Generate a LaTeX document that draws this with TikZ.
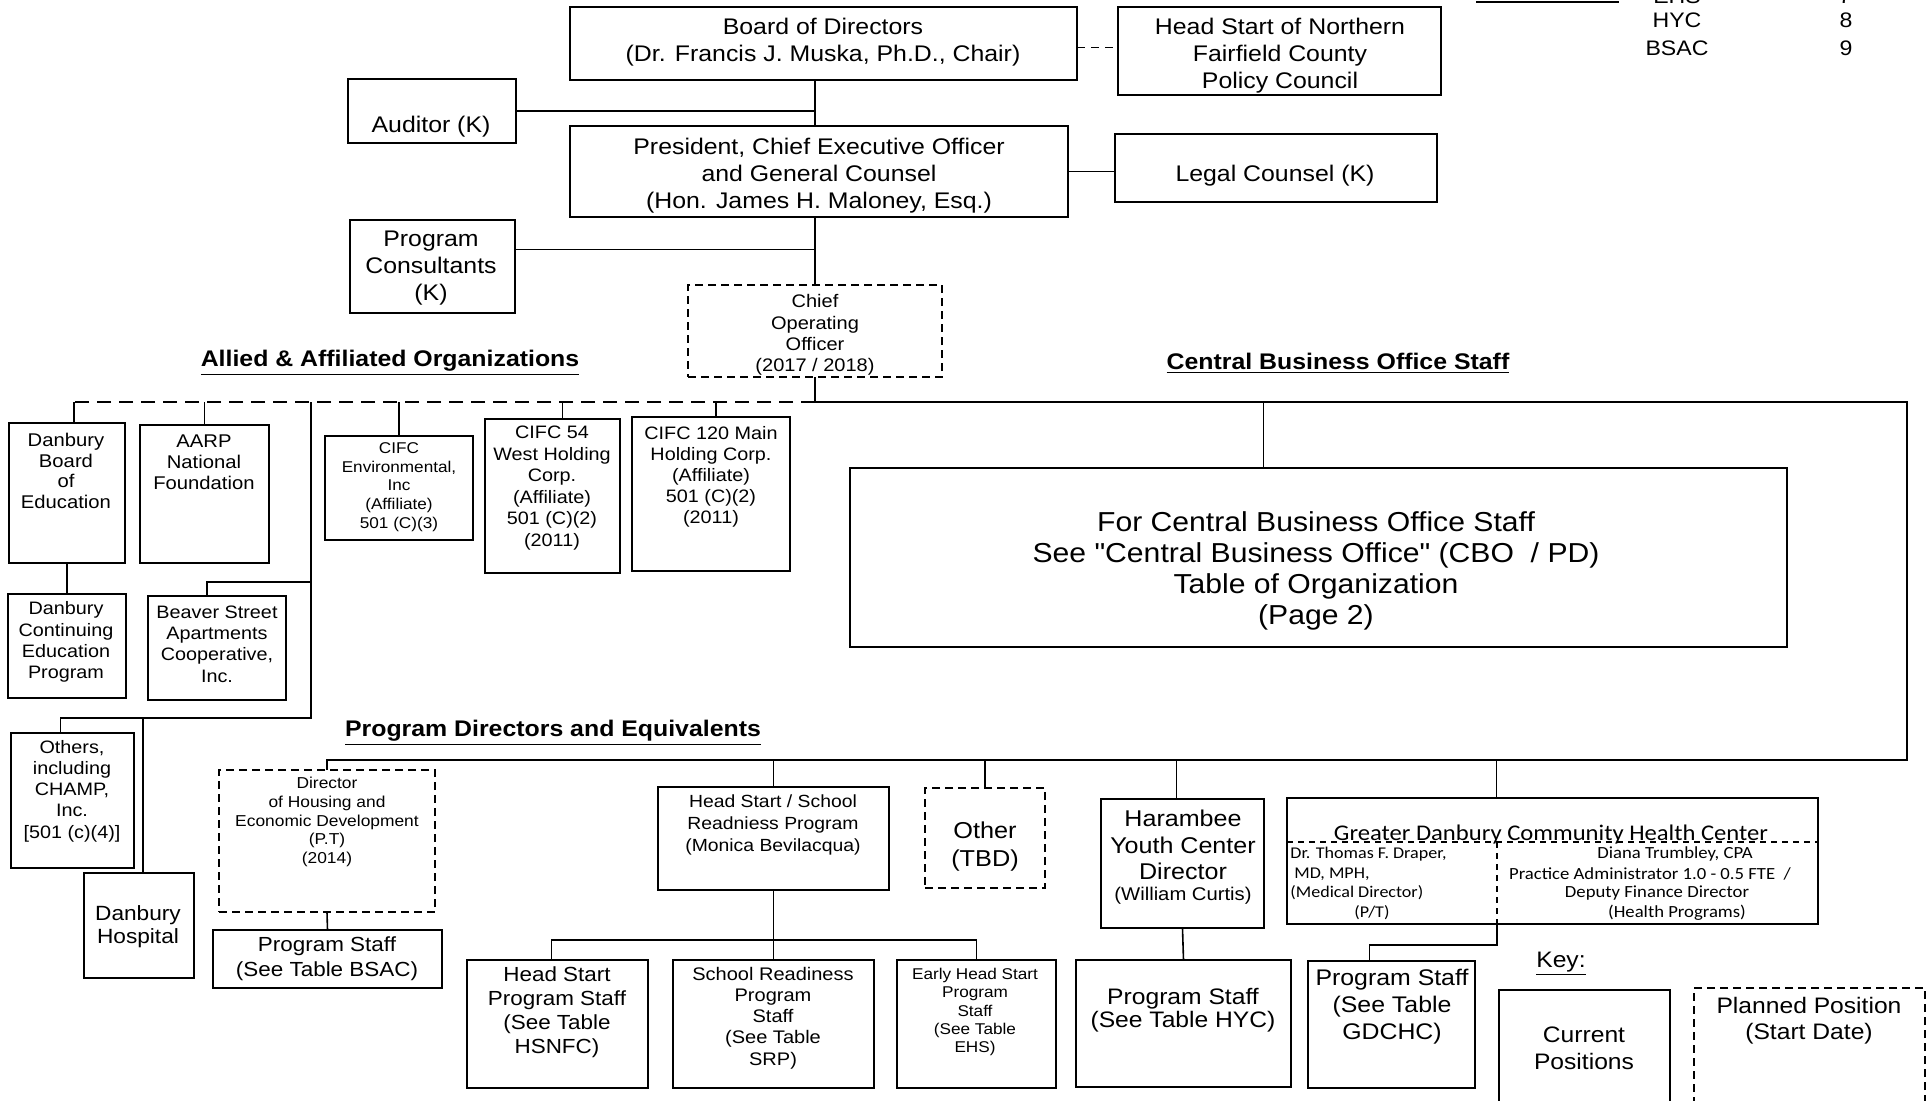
\documentclass[tikz,border=0pt]{standalone}
\usepackage{fontspec}
\newfontfamily\af[FakeStretch=1.1]{Liberation Sans}
\newfontfamily\cf[FakeStretch=1.1]{Carlito}
\usetikzlibrary{calc}
\newcommand\fz[2]{\fontsize{#1pt}{#2pt}\selectfont}
\newcommand\orgbox[6][]{\node[bx,#1,minimum width={(#5-#3)*0.5pt},minimum height={(#6-#4)*0.5pt}] (#2) at ({(#3+#5)/2},{(#4+#6)/2}) {};}
\newcommand\tnode[5]{\node[tx,font=\af\fz{#3}{#4}] (#1) at (#2) {#5};}
\tikzset{
  bx/.style={draw, line width=0.9pt, inner sep=0pt, outer sep=0pt},
  planbx/.style={dash pattern=on 4pt off 2.5pt},
  ln/.style={line width=0.8pt},
  dln/.style={line width=0.8pt, dash pattern=on 7pt off 4pt},
  sdln/.style={line width=0.7pt, dash pattern=on 3pt off 2.5pt},
  tx/.style={inner sep=0pt, align=center},
  tbl/.style={inner sep=0pt, anchor=base, font=\af\fz{10.5}{12}},
}
\begin{document}
\begin{tikzpicture}[x=0.5pt,y=-0.5pt]
\fill[white] (0,0) rectangle (1929,1100);
\useasboundingbox (0,0) rectangle (1929,1100);

% ---- boxes ----
\orgbox{board}{570}{7}{1077}{80}
\orgbox{hsp}{1118}{7}{1441}{95}
\orgbox{aud}{348}{79}{516}{143}
\orgbox{pres}{570}{126}{1068}{217}
\orgbox{legal}{1115}{134}{1437}{202}
\orgbox{pc}{350}{220}{515}{313}
\orgbox[planbx]{coo}{688}{285}{942}{377}
\orgbox{dbe}{9}{423}{125}{563}
\orgbox{aarp}{140}{425}{269}{563}
\orgbox{cenv}{325}{436}{473}{540}
\orgbox{c54}{485}{419}{620}{573}
\orgbox{c120}{632}{417}{790}{571}
\orgbox{dce}{8}{594}{126}{698}
\orgbox{bsa}{148}{596}{286}{700}
\orgbox{oth}{11}{733}{134}{868}
\orgbox{hosp}{84}{873}{194}{978}
\orgbox{cbo}{850}{468}{1787}{647}
\orgbox[planbx]{dir}{219}{770}{435}{912}
\orgbox{bsac}{213}{930}{442}{988}
\orgbox{hssr}{658}{787}{889}{890}
\orgbox[planbx]{other}{925}{788}{1045}{888}
\orgbox{har}{1101}{799}{1264}{928}
\orgbox{gd}{1287}{798}{1818}{924}
\orgbox{hss}{467}{960}{648}{1088}
\orgbox{srs}{673}{960}{874}{1088}
\orgbox{ehs}{897}{960}{1056}{1088}
\orgbox{hyc}{1076}{960}{1291}{1087}
\orgbox{gds}{1308}{961}{1475}{1088}
\orgbox{cur}{1499}{990}{1670}{1106}
\orgbox[planbx]{plan}{1694}{988}{1925}{1106}

% ---- texts ----
\tnode{board-t}{823,42}{11.3}{13.5}{Board of Directors\\(Dr. Francis J. Muska, Ph.D., Chair)}
\tnode{hsp-t}{1280,56}{11.3}{13.5}{Head Start of Northern\\Fairfield County\\Policy Council}
\tnode{aud-t}{431,127}{11.3}{13.5}{Auditor (K)}
\tnode{pres-t}{819,176}{11.3}{13.5}{President, Chief Executive Officer\\and General Counsel\\(Hon. James H. Maloney, Esq.)}
\tnode{legal-t}{1275,176}{11.3}{13.5}{Legal Counsel (K)}
\tnode{pc-t}{431,268}{11.3}{13.5}{Program\\Consultants\\(K)}
\tnode{coo-t}{815,335}{9.1}{10.7}{Chief\\Operating\\Officer\\(2017 / 2018)}

\node[tx,font=\af\bfseries\fz{11.3}{13.5}] (t-allied) at (390,363) {\underline{Allied \& Affiliated Organizations}};
\node[tx,font=\af\bfseries\fz{11.3}{13.5}] (t-cbo) at (1338,363) {\underline{Central Business Office Staff}};
\node[tx,font=\af\bfseries\fz{11.3}{13.5}] (t-pd) at (553,733) {\underline{Program Directors and Equivalents}};

\tnode{dbe-t}{66,471}{9.2}{10.4}{Danbury\\Board\\of\\Education}
\tnode{aarp-t}{204,462}{9.2}{10.6}{AARP\\National\\Foundation}
\tnode{cenv-t}{399,487}{7.8}{9.35}{CIFC\\Environmental,\\Inc\\(Affiliate)\\501 (C)(3)}
\tnode{c54-t}{552,488}{9.0}{10.8}{CIFC 54\\West Holding\\Corp.\\(Affiliate)\\501 (C)(2)\\(2011)}
\tnode{c120-t}{711,477}{9.0}{10.5}{CIFC 120 Main\\Holding Corp.\\(Affiliate)\\501 (C)(2)\\(2011)}
\tnode{dce-t}{66,642}{9.0}{10.6}{Danbury\\Continuing\\Education\\Program}
\tnode{bsa-t}{217,644}{9.0}{10.6}{Beaver Street\\Apartments\\Cooperative,\\Inc.}
\tnode{oth-t}{72,791}{9.0}{10.6}{Others,\\including\\CHAMP,\\Inc.\\{[}501 (c)(4){]}}
\tnode{hosp-t}{138,927}{10.3}{11.6}{Danbury\\Hospital}
\tnode{cbo-t}{1316,571}{13.7}{15.5}{For Central Business Office Staff\\See "Central Business Office" (CBO\ \ / PD)\\Table of Organization\\(Page 2)}
\tnode{dir-t}{327,822}{7.9}{9.3}{Director\\of Housing and\\Economic Development\\(P.T)\\(2014)}
\tnode{bsac-t}{327,959}{10.2}{12.5}{Program Staff\\(See Table BSAC)}
\tnode{hssr-t}{773,825}{8.8}{10.8}{Head Start / School\\Readniess Program\\(Monica Bevilacqua)}
\tnode{other-t}{985,847}{11.5}{14}{Other\\(TBD)}
\tnode{har-t}{1183,845}{11.4}{13.3}{Harambee\\Youth Center\\Director}
\tnode{har-n}{1183,896}{9.2}{11}{(William Curtis)}
\tnode{hss-t}{557,1012}{10.2}{12}{Head Start\\Program Staff\\(See Table\\HSNFC)}
\tnode{srs-t}{773,1018}{9.1}{10.6}{School Readiness\\Program\\Staff\\(See Table\\SRP)}
\tnode{ehs-t}{975,1012}{7.8}{9.2}{Early Head Start\\Program\\Staff\\(See Table\\EHS)}
\tnode{hyc-t}{1183,1010}{11.2}{10.2}{Program Staff\\(See Table HYC)}
\tnode{gds-t}{1392,1007}{11.3}{13.5}{Program Staff\\(See Table\\GDCHC)}

% GDCHC box contents
\coordinate (gdL) at (1287,842);
\coordinate (gdR) at (1818,842);
\coordinate (gdS) at (1497,842);
\coordinate (gdB) at (1497,924);
\draw[sdln] (gdL) -- (gdR);
\draw[sdln] (gdS) -- (gdB);
\node[inner sep=0pt,anchor=base,font=\cf\fz{11.2}{13}] (gd-title) at (1551,840) {Greater Danbury Community Health Center};
\node[inner sep=0pt,anchor=west,align=left,font=\cf\fz{8.2}{9.75}] (gd-left) at (1290,883.5) {Dr. Thomas F. Draper,\\\hspace*{2pt}MD, MPH,\\(Medical Director)\\\hspace*{32pt}(P/T)};
\node[inner sep=0pt,font=\cf\fz{8.5}{10}] (gd-r1) at (1675,854) {Diana Trumbley, CPA};
\node[inner sep=0pt,font=\cf\fz{8.5}{10}] (gd-r2) at (1650,874) {Practice Administrator 1.0 - 0.5 FTE\ \ /};
\node[inner sep=0pt,font=\cf\fz{8.5}{10}] (gd-r3) at (1657,893) {Deputy Finance Director};
\node[inner sep=0pt,font=\cf\fz{8.5}{10}] (gd-r4) at (1677,913) {(Health Programs)};

% key
\node[tx,font=\af\fz{11.2}{13.5}] (key) at (1561,964) {\underline{Key:}};
\tnode{cur-t}{1584,1048}{11.2}{13.5}{Current\\Positions}
\tnode{plan-t}{1809,1021}{11.2}{13}{Planned Position\\(Start Date)}

% top-right table remnant
\draw[ln] (1476,2) coordinate (tl1) -- (1619,2) coordinate (tl2);
\node[tbl] (ehs-l) at (1677,3) {EHS};
\node[tbl] (ehs-n) at (1845,3) {7};
\node[tbl] (hyc-l) at (1677,27) {HYC};
\node[tbl] (hyc-n) at (1846,27) {8};
\node[tbl] (bsac-l) at (1677,55) {BSAC};
\node[tbl] (bsac-n) at (1846,55) {9};

% ---- connectors ----
\draw[ln] (board.south -| coo.north) -- (pres.north -| coo.north);
\draw[ln] (pres.south -| coo.north) -- (coo.north);
\draw[ln] (aud.east) -- (aud.east -| coo.north);
\draw[ln] ([yshift=8.5pt]pc.east) -- ([yshift=8.5pt]pc.east -| coo.north);
\draw[ln] (pres.east) -- (pres.east -| legal.west);
\draw[line width=0.8pt, dash pattern=on 4pt off 3pt] ([yshift=-2pt]board.east) -- ([yshift=-2pt]board.east -| hsp.west);

\coordinate (busL) at (74,402);
\coordinate (busM) at (815,402);
\coordinate (busR) at (1907,402);
\coordinate (busRB) at (1907,760);
\coordinate (pdL) at (327,760);
\draw[ln] (coo.south) -- (busM);
\draw[dln] (busM) -- (busL);
\draw[ln] (busM) -- (busR) -- (busRB) -- (pdL) -- (dir.north);
\draw[ln] (busL) -- (busL |- dbe.north);
\draw[ln] (aarp.north) -- (aarp.north |- busM);
\draw[ln] (cenv.north) -- (cenv.north |- busM);
\draw[ln] ([xshift=5pt]c54.north) -- ([xshift=5pt]c54.north |- busM);
\draw[ln] ([xshift=2.5pt]c120.north) -- ([xshift=2.5pt]c120.north |- busM);
\draw[ln] ([xshift=-27.5pt]cbo.north) -- ([xshift=-27.5pt]cbo.north |- busM);
\draw[ln] (dbe.south) -- (dce.north);

\coordinate (vA) at (311,402);
\coordinate (vBeav) at (311,582);
\coordinate (vB) at (311,718);
\draw[ln] (vA) -- (vB) -- ([xshift=-6pt]oth.north |- vB) -- ([xshift=-6pt]oth.north);
\draw[ln] (vBeav) -- ([xshift=-5pt]bsa.north |- vBeav) -- ([xshift=-5pt]bsa.north);
\draw[ln] ([xshift=2pt]hosp.north) -- ([xshift=2pt]hosp.north |- vB);

\draw[ln] (dir.south) -- (bsac.north);
\draw[ln] (hssr.north) -- (hssr.north |- pdL);
\draw[ln] (other.north) -- (other.north |- pdL);
\draw[ln] ([xshift=-3pt]har.north) -- ([xshift=-3pt]har.north |- pdL);
\draw[ln] ([xshift=-28pt]gd.north) -- ([xshift=-28pt]gd.north |- pdL);
\draw[ln] (hssr.south) -- (srs.north);
\coordinate (hsbar) at (774,940);
\draw[ln] ([xshift=-3pt]hss.north) |- (hsbar) -| (ehs.north);
\draw[ln] (har.south) -- (hyc.north);
\draw[ln] (gdB) -- ++(0,21) -| ([xshift=-11pt]gds.north);
\end{tikzpicture}
\end{document}
